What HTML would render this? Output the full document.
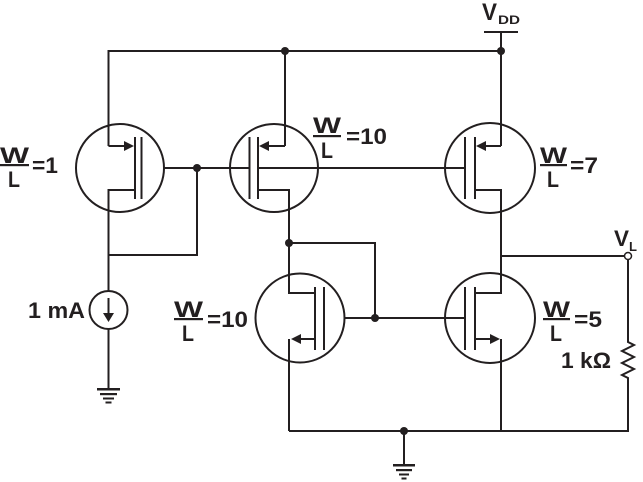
<!DOCTYPE html>
<html><head><meta charset="utf-8"><style>
html,body{margin:0;padding:0;background:#fff;width:643px;height:482px;overflow:hidden}
svg{display:block}
text{font-family:"Liberation Sans",sans-serif;font-weight:bold;fill:#231f20}
</style></head><body>
<svg width="643" height="482" viewBox="0 0 643 482" xmlns="http://www.w3.org/2000/svg">
<g stroke="#231f20" stroke-width="2" fill="none">
<line x1="484" y1="32" x2="518" y2="32"/>
<line x1="501" y1="32" x2="501" y2="51"/>
<polyline points="108.5,146 108.5,51 501,51 501,146"/>
<line x1="285" y1="51" x2="285" y2="146"/>
<circle cx="120" cy="168" r="44"/>
<circle cx="274" cy="168" r="44"/>
<circle cx="490" cy="168" r="45"/>
<circle cx="300" cy="318" r="44.5"/>
<circle cx="490" cy="318" r="45"/>
<line x1="108.5" y1="146" x2="126" y2="146"/>
<line x1="135" y1="137" x2="135" y2="199"/>
<line x1="141.5" y1="137" x2="141.5" y2="199"/>
<polyline points="135,190 108.5,190 108.5,291"/>
<line x1="164" y1="168" x2="197" y2="168"/>
<polyline points="197,168 197,255 108.5,255"/>
<line x1="285" y1="146" x2="267" y2="146"/>
<line x1="258" y1="137" x2="258" y2="199"/>
<line x1="249.5" y1="137" x2="249.5" y2="199"/>
<polyline points="258,190 289,190 289,293 315,293"/>
<line x1="197" y1="168" x2="249.5" y2="168"/>
<line x1="258" y1="168" x2="465" y2="168"/>
<line x1="501" y1="146" x2="484" y2="146"/>
<line x1="475" y1="137" x2="475" y2="199"/>
<line x1="465" y1="137" x2="465" y2="199"/>
<polyline points="475,190 501,190 501,293 475,293"/>
<line x1="501" y1="256" x2="624" y2="256"/>
<polyline points="628,260 628,342 634,345 622,351 634,357 622,363 634,369 622,375 628,378 628,431 289,431"/>
<line x1="315" y1="287" x2="315" y2="350"/>
<line x1="324" y1="287" x2="324" y2="350"/>
<polyline points="315,339 300,339"/>
<line x1="289" y1="339" x2="289" y2="431"/>
<polyline points="289,243 375,243 375,318"/>
<line x1="345" y1="318" x2="465" y2="318"/>
<line x1="475" y1="287" x2="475" y2="350"/>
<line x1="465" y1="287" x2="465" y2="350"/>
<line x1="475" y1="339" x2="490" y2="339"/>
<line x1="501" y1="339" x2="501" y2="431"/>
<circle cx="108.5" cy="310" r="19"/>
<line x1="108.5" y1="298" x2="108.5" y2="316"/>
<line x1="108.5" y1="329" x2="108.5" y2="389"/>
<line x1="404" y1="431" x2="404" y2="465"/>
</g>
<g fill="#231f20">
<circle cx="501" cy="51" r="4"/>
<circle cx="285" cy="51" r="4"/>
<circle cx="197" cy="168" r="4"/>
<circle cx="289" cy="243" r="4"/>
<circle cx="375" cy="318" r="4"/>
<circle cx="404" cy="431" r="4"/>
<polygon points="134,146 124,141 124,151"/>
<polygon points="259,146 269,141 269,151"/>
<polygon points="476,146 486,141 486,151"/>
<polygon points="291,339 301,334 301,344"/>
<polygon points="500,339 490,334 490,344"/>
<polygon points="108.5,322 103,313 114,313"/>
<rect x="97" y="388" width="23" height="2.5"/>
<rect x="100" y="393" width="17" height="2.2"/>
<rect x="103" y="397.5" width="11" height="2"/>
<rect x="105.5" y="401.5" width="6" height="2"/>
<rect x="393" y="464" width="22" height="2.5"/>
<rect x="396" y="469" width="16" height="2.2"/>
<rect x="399" y="473.5" width="10" height="2"/>
<rect x="401.5" y="477.5" width="5" height="2"/>
</g>
<circle cx="628" cy="256" r="3.5" fill="#fff" stroke="#231f20" stroke-width="1.5"/>
<text x="482" y="20" font-size="24" textLength="15" lengthAdjust="spacingAndGlyphs">V</text>
<text x="498" y="24" font-size="12" textLength="22" lengthAdjust="spacingAndGlyphs">DD</text>
<text x="614" y="246" font-size="22" textLength="15" lengthAdjust="spacingAndGlyphs">V</text>
<text x="629" y="251" font-size="13">L</text>
<g font-size="22">
<text x="0" y="163" textLength="29" lengthAdjust="spacingAndGlyphs">W</text>
<rect x="0" y="164" width="29" height="2.2" fill="#231f20"/>
<text x="8" y="187" textLength="12" lengthAdjust="spacingAndGlyphs">L</text>
<text x="32" y="173" textLength="26" lengthAdjust="spacingAndGlyphs">=1</text>

<text x="313" y="133" textLength="28" lengthAdjust="spacingAndGlyphs">W</text>
<rect x="313" y="135" width="28" height="2.2" fill="#231f20"/>
<text x="321" y="158" textLength="12" lengthAdjust="spacingAndGlyphs">L</text>
<text x="346" y="144" textLength="41" lengthAdjust="spacingAndGlyphs">=10</text>

<text x="540" y="163" textLength="27" lengthAdjust="spacingAndGlyphs">W</text>
<rect x="540" y="164" width="27" height="2.2" fill="#231f20"/>
<text x="547" y="187" textLength="12" lengthAdjust="spacingAndGlyphs">L</text>
<text x="570" y="173" textLength="28" lengthAdjust="spacingAndGlyphs">=7</text>

<text x="174" y="317" textLength="29" lengthAdjust="spacingAndGlyphs">W</text>
<rect x="174" y="318" width="29" height="2.2" fill="#231f20"/>
<text x="182" y="341" textLength="12" lengthAdjust="spacingAndGlyphs">L</text>
<text x="207" y="327" textLength="41" lengthAdjust="spacingAndGlyphs">=10</text>

<text x="543" y="317" textLength="27" lengthAdjust="spacingAndGlyphs">W</text>
<rect x="543" y="318" width="27" height="2.2" fill="#231f20"/>
<text x="550" y="341" textLength="12" lengthAdjust="spacingAndGlyphs">L</text>
<text x="574" y="327" textLength="28" lengthAdjust="spacingAndGlyphs">=5</text>

<text x="28" y="318" textLength="57" lengthAdjust="spacingAndGlyphs">1 mA</text>
<text x="561" y="368" textLength="50" lengthAdjust="spacingAndGlyphs">1 kΩ</text>
</g>
</svg>
</body></html>
